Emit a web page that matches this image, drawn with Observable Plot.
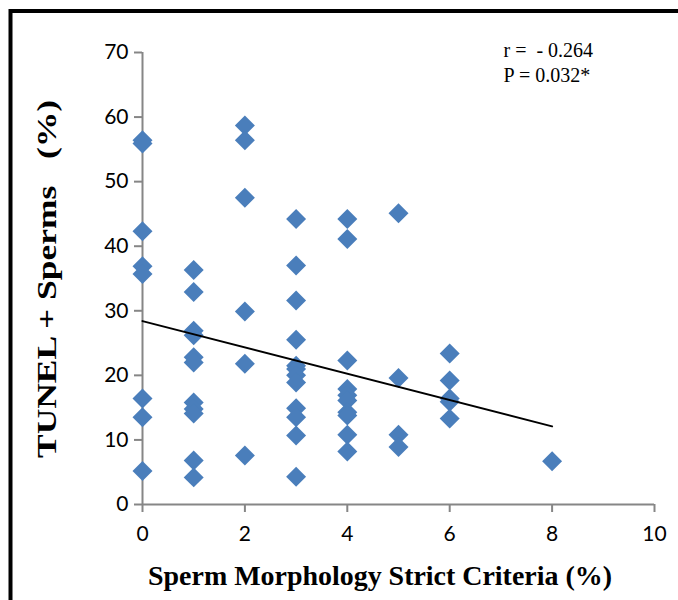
<!DOCTYPE html>
<html>
<head>
<meta charset="utf-8">
<script src="https://cdn.jsdelivr.net/npm/d3@7"></script>
<script src="https://cdn.jsdelivr.net/npm/@observablehq/plot@0.6"></script>
<style>
  html, body { margin: 0; padding: 0; background: #fff; }
  #chart { width: 678px; height: 600px; }
</style>
</head>
<body>
<div id="chart"></div>
<script>
// Sperm morphology (strict criteria, %) for each patient
const morphology = [
  0, 0, 0, 0, 0, 0, 0, 0,
  1, 1, 1, 1, 1, 1, 1, 1, 1, 1, 1,
  2, 2, 2, 2, 2, 2,
  3, 3, 3, 3, 3, 3, 3, 3, 3, 3, 3, 3,
  4, 4, 4, 4, 4, 4, 4, 4, 4, 4,
  5, 5, 5, 5,
  6, 6, 6, 6, 6,
  8
];
// TUNEL positive sperms (%) for each patient
const tunel = [
  56.4, 55.9, 42.3, 36.9, 35.7, 16.4, 13.5, 5.2,
  36.3, 32.9, 26.9, 26.2, 22.8, 22.0, 15.8, 14.8, 14.1, 6.8, 4.2,
  58.7, 56.4, 47.5, 29.9, 21.8, 7.6,
  44.2, 37.0, 31.6, 25.5, 21.5, 21.0, 20.0, 18.9, 14.9, 13.5, 10.7, 4.3,
  44.2, 41.1, 22.3, 17.9, 16.9, 16.1, 14.3, 13.8, 10.8, 8.2,
  45.1, 19.6, 10.8, 8.9,
  23.4, 19.2, 16.4, 15.9, 13.3,
  6.7
];
// Linear trend line end points
const trendX = [0, 8];
const trendY = [28.4, 12.1];

const xTicks = [0, 2, 4, 6, 8, 10];
const yTicks = [0, 10, 20, 30, 40, 50, 60, 70];
const statLines = ["r =  - 0.264", "P = 0.032*"];
const xTitle = "Sperm Morphology Strict Criteria (%)";
const yTitle = "TUNEL + Sperms   (%)";

const points = morphology.map((m, i) => ({m, t: tunel[i]}));
const trend = trendX.map((x, i) => ({x, y: trendY[i]}));

const axisColor = "#868686";
const tickFont = "Lato, 'Open Sans', sans-serif";
const serif = "'Liberation Serif', 'Times New Roman', serif";

const chart = Plot.plot({
  width: 678,
  height: 600,
  marginLeft: 142,
  marginRight: 24,
  marginTop: 52,
  marginBottom: 96,
  style: {background: "#fff", fontFamily: tickFont},
  x: {domain: [0, 10], ticks: xTicks},
  y: {domain: [0, 70], ticks: yTicks},
  marks: [
    Plot.ruleY([0], {stroke: axisColor, strokeWidth: 2}),
    Plot.ruleX([0], {stroke: axisColor, strokeWidth: 2}),
    Plot.axisX({ticks: xTicks, tickSize: 8, tickPadding: 14, stroke: axisColor, strokeWidth: 2,
      fontSize: 21, fill: "#000", label: null, tickFormat: d => String(d)}),
    Plot.axisY({ticks: yTicks, tickSize: 8, tickPadding: 6, stroke: axisColor, strokeWidth: 2,
      fontSize: 21, fill: "#000", label: null, tickFormat: d => String(d)}),
    Plot.dot(points, {x: "m", y: "t", symbol: "diamond2", r: 9, fill: "#4a7ebb", stroke: "none"}),
    Plot.line(trend, {x: "x", y: "y", stroke: "#000", strokeWidth: 2}),
    Plot.text([statLines.join("\n")], {
      frameAnchor: "top-right", textAnchor: "start", lineAnchor: "top",
      dx: -151, dy: -13, lineHeight: 1.25,
      fontFamily: serif, fontSize: 20, fill: "#000"
    })
  ]
});

const svg = d3.select(chart);
svg.append("text")
  .attr("x", 380).attr("y", 585)
  .attr("text-anchor", "middle")
  .attr("font-family", serif)
  .attr("font-weight", "bold").attr("font-size", 27).attr("fill", "#000")
  .attr("textLength", 464).attr("lengthAdjust", "spacingAndGlyphs")
  .text(xTitle);
svg.append("text")
  .attr("transform", "translate(56,279) rotate(-90)")
  .attr("text-anchor", "middle")
  .attr("font-family", serif)
  .attr("font-weight", "bold").attr("font-size", 28).attr("fill", "#000")
  .attr("textLength", 358).attr("lengthAdjust", "spacingAndGlyphs")
  .style("white-space", "pre")
  .text(yTitle);
svg.append("path")
  .attr("d", "M10.5,600V11H678")
  .attr("fill", "none").attr("stroke", "#000")
  .attr("stroke-width", 4);

document.getElementById("chart").append(chart);
</script>
</body>
</html>
